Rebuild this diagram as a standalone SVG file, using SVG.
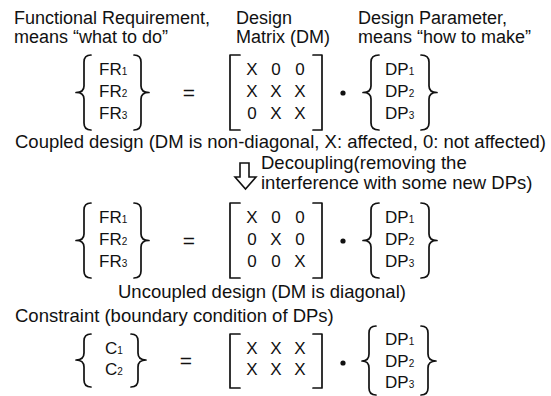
<svg xmlns="http://www.w3.org/2000/svg" width="551" height="396" viewBox="0 0 551 396">
  <style>
    text { font-family: "Liberation Sans", Arial, sans-serif; fill: #111; }
    .hd { font-size: 18px; }
    .lbl { font-size: 18.5px; }
    .ent { font-size: 17px; }
    .mx { font-size: 17px; text-anchor: middle; }
    .sub { font-size: 10px; }
    .eq { font-size: 21px; text-anchor: middle; }
    .br { fill: none; stroke: #111; stroke-width: 1.7; stroke-linecap: round; stroke-linejoin: round; }
  </style>
  <rect width="551" height="396" fill="#fff"/>

  <!-- column headings -->
  <g id="headings">
    <text class="hd" x="14" y="24">Functional Requirement,</text>
    <text class="hd" x="14" y="43">means “what to do”</text>
    <text class="hd" x="236" y="24">Design</text>
    <text class="hd" x="236" y="43">Matrix (DM)</text>
    <text class="hd" x="358" y="24">Design Parameter,</text>
    <text class="hd" x="358" y="43">means “how to make”</text>
  </g>

  <!-- equation 1: coupled design -->
  <g id="eq-coupled">
    <path class="br" d="M91,55 Q84,55 84,62 V86 Q84,92.5 76,92.5 Q84,92.5 84,99 V123 Q84,130 91,130"/>
    <path class="br" d="M134,55 Q141,55 141,62 V86 Q141,92.5 149,92.5 Q141,92.5 141,99 V123 Q141,130 134,130"/>
    <text class="ent" x="99" y="75">FR<tspan class="sub">1</tspan></text>
    <text class="ent" x="99" y="97">FR<tspan class="sub">2</tspan></text>
    <text class="ent" x="99" y="119">FR<tspan class="sub">3</tspan></text>
    <text class="eq" x="189" y="100">=</text>
    <path class="br" d="M240,55 H230 V130 H240"/>
    <path class="br" d="M313,55 H322 V130 H313"/>
    <text class="mx" x="252" y="75">X</text><text class="mx" x="276" y="75">0</text><text class="mx" x="300" y="75">0</text>
    <text class="mx" x="252" y="97">X</text><text class="mx" x="276" y="97">X</text><text class="mx" x="300" y="97">X</text>
    <text class="mx" x="252" y="119">0</text><text class="mx" x="276" y="119">X</text><text class="mx" x="300" y="119">X</text>
    <circle cx="343" cy="93" r="2.6" fill="#111"/>
    <path class="br" d="M379,55 Q371,55 371,62 V86 Q371,92.5 363,92.5 Q371,92.5 371,99 V123 Q371,130 379,130"/>
    <path class="br" d="M421,55 Q429,55 429,62 V86 Q429,92.5 437,92.5 Q429,92.5 429,99 V123 Q429,130 421,130"/>
    <text class="ent" x="385" y="75">DP<tspan class="sub">1</tspan></text>
    <text class="ent" x="385" y="97">DP<tspan class="sub">2</tspan></text>
    <text class="ent" x="385" y="119">DP<tspan class="sub">3</tspan></text>
    <text class="lbl" x="15" y="148">Coupled design (DM is non-diagonal, X: affected, 0: not affected)</text>
  </g>

  <!-- decoupling step -->
  <g id="decoupling">
    <path d="M240,163 H249 V177 H256 L245.5,189 L235,177 H240 Z" fill="#fff" stroke="#111" stroke-width="1.6" stroke-linejoin="miter"/>
    <text class="lbl" x="261" y="169">Decoupling(removing the</text>
    <text class="lbl" x="261" y="189">interference with some new DPs)</text>
  </g>

  <!-- equation 2: uncoupled design -->
  <g id="eq-uncoupled">
    <path class="br" d="M91,203 Q84,203 84,210 V234 Q84,240.5 76,240.5 Q84,240.5 84,247 V271 Q84,278 91,278"/>
    <path class="br" d="M134,203 Q141,203 141,210 V234 Q141,240.5 149,240.5 Q141,240.5 141,247 V271 Q141,278 134,278"/>
    <text class="ent" x="99" y="223">FR<tspan class="sub">1</tspan></text>
    <text class="ent" x="99" y="245">FR<tspan class="sub">2</tspan></text>
    <text class="ent" x="99" y="267">FR<tspan class="sub">3</tspan></text>
    <text class="eq" x="189" y="248">=</text>
    <path class="br" d="M240,203 H230 V278 H240"/>
    <path class="br" d="M313,203 H322 V278 H313"/>
    <text class="mx" x="252" y="223">X</text><text class="mx" x="276" y="223">0</text><text class="mx" x="300" y="223">0</text>
    <text class="mx" x="252" y="245">0</text><text class="mx" x="276" y="245">X</text><text class="mx" x="300" y="245">0</text>
    <text class="mx" x="252" y="267">0</text><text class="mx" x="276" y="267">0</text><text class="mx" x="300" y="267">X</text>
    <circle cx="343" cy="241" r="2.6" fill="#111"/>
    <path class="br" d="M379,203 Q371,203 371,210 V234 Q371,240.5 363,240.5 Q371,240.5 371,247 V271 Q371,278 379,278"/>
    <path class="br" d="M421,203 Q429,203 429,210 V234 Q429,240.5 437,240.5 Q429,240.5 429,247 V271 Q429,278 421,278"/>
    <text class="ent" x="385" y="223">DP<tspan class="sub">1</tspan></text>
    <text class="ent" x="385" y="245">DP<tspan class="sub">2</tspan></text>
    <text class="ent" x="385" y="267">DP<tspan class="sub">3</tspan></text>
    <text class="lbl" x="118" y="298">Uncoupled design (DM is diagonal)</text>
  </g>

  <!-- equation 3: constraints -->
  <g id="eq-constraint">
    <text class="lbl" x="15" y="322">Constraint (boundary condition of DPs)</text>
    <path class="br" d="M91,334 Q84,334 84,341 V353 Q84,360 76,360 Q84,360 84,367 V380 Q84,387 91,387"/>
    <path class="br" d="M131,334 Q138,334 138,341 V353 Q138,360 146,360 Q138,360 138,367 V380 Q138,387 131,387"/>
    <text class="ent" x="105" y="354">C<tspan class="sub">1</tspan></text>
    <text class="ent" x="105" y="375">C<tspan class="sub">2</tspan></text>
    <text class="eq" x="186" y="368">=</text>
    <path class="br" d="M240,334 H230 V388 H240"/>
    <path class="br" d="M313,334 H322 V388 H313"/>
    <text class="mx" x="252" y="354">X</text><text class="mx" x="276" y="354">X</text><text class="mx" x="300" y="354">X</text>
    <text class="mx" x="252" y="375">X</text><text class="mx" x="276" y="375">X</text><text class="mx" x="300" y="375">X</text>
    <circle cx="343" cy="363" r="2.6" fill="#111"/>
    <path class="br" d="M376,326 Q369,326 369,333 V354 Q369,361 362,361 Q369,361 369,368 V388 Q369,395 376,395"/>
    <path class="br" d="M421,326 Q428,326 428,333 V354 Q428,361 436,361 Q428,361 428,368 V388 Q428,395 421,395"/>
    <text class="ent" x="385" y="345">DP<tspan class="sub">1</tspan></text>
    <text class="ent" x="385" y="367">DP<tspan class="sub">2</tspan></text>
    <text class="ent" x="385" y="388">DP<tspan class="sub">3</tspan></text>
  </g>
</svg>
